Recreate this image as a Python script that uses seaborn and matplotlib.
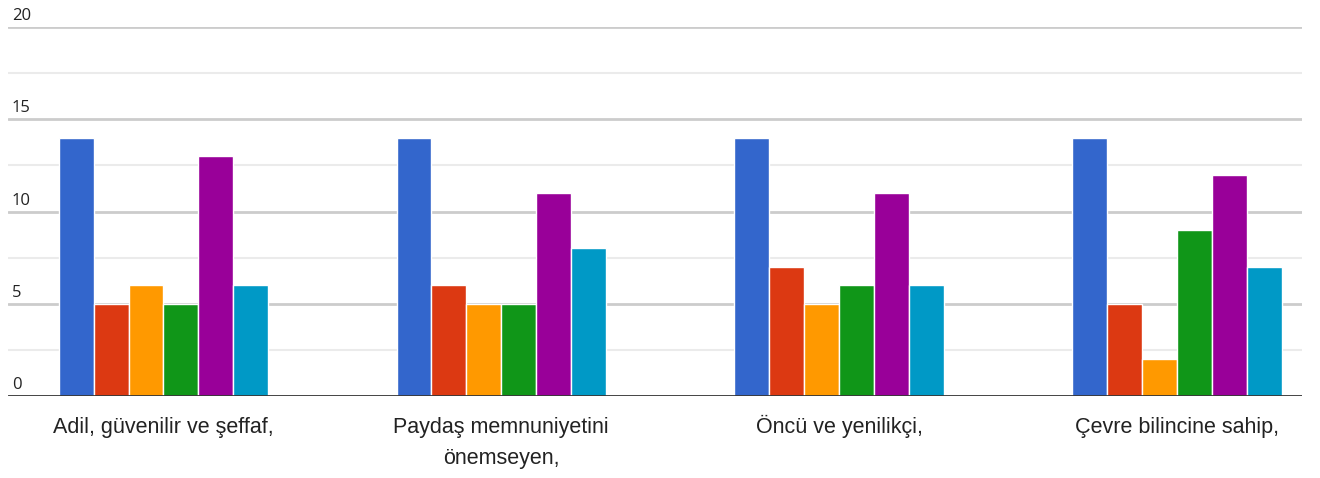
import pandas as pd
import matplotlib.pyplot as plt
import matplotlib.transforms as mtransforms
import seaborn as sns

# Chart data
categories = ['Adil, güvenilir ve şeffaf,', 'Paydaş memnuniyetini\nönemseyen,',
              'Öncü ve yenilikçi,', 'Çevre bilincine sahip,']
series = ['s1', 's2', 's3', 's4', 's5', 's6']
s1 = [14, 14, 14, 14]
s2 = [5, 6, 7, 5]
s3 = [6, 5, 5, 2]
s4 = [5, 5, 6, 9]
s5 = [13, 11, 11, 12]
s6 = [6, 8, 6, 7]
y_ticks = [0, 5, 10, 15, 20]

colors = ['#3366CC', '#DC3912', '#FF9900', '#109618', '#990099', '#0099C6']

rows = []
for name, vals in zip(series, [s1, s2, s3, s4, s5, s6]):
    for cat, v in zip(categories, vals):
        rows.append({'category': cat, 'series': name, 'value': v})
data = pd.DataFrame(rows)

sns.set_style('white')
plt.rcParams['font.family'] = ['Liberation Sans', 'DejaVu Sans']

fig = plt.figure(figsize=(13.2, 4.78), dpi=100)
ax = fig.add_axes([8 / 1320, 82 / 478, 1294 / 1320, 369 / 478])

sns.barplot(data=data, x='category', y='value', hue='series', order=categories,
            hue_order=series, palette=colors, saturation=1, width=0.62,
            edgecolor='white', linewidth=1, legend=False, ax=ax, zorder=3)

ax.set_ylim(0, 20)
ax.set_xlim(-0.46, 3.37)

# gridlines
for v in [2.5, 7.5, 12.5, 17.5]:
    ax.axhline(v, color='#ebebeb', lw=1.5, zorder=1)
for v in y_ticks[1:]:
    ax.axhline(v, color='#cccccc', lw=2, zorder=1)
ax.axhline(0, color='#333333', lw=2, zorder=4)

# y labels sit above the lines on the left
trans = mtransforms.blended_transform_factory(ax.transAxes, ax.transData)
for v in y_ticks:
    ax.annotate(str(v), xy=(0.003, v), xycoords=trans, xytext=(0, 2),
                textcoords='offset points', ha='left', va='bottom',
                fontsize=12, color='#222222', family=['Open Sans', 'DejaVu Sans'])

# category labels, one line at a time so baselines line up
for i, cat in enumerate(categories):
    for j, line in enumerate(cat.split('\n')):
        ax.annotate(line, xy=(i, 0), xycoords=('data', 'data'),
                    xytext=(0, -27 - j * 22), textcoords='offset points',
                    ha='center', va='baseline', fontsize=15.5, color='#222222')

ax.set_yticks([])
ax.set_xticks([])
ax.set_xlabel('')
ax.set_ylabel('')
for spine in ax.spines.values():
    spine.set_visible(False)

fig.savefig('out.png', dpi=100)
